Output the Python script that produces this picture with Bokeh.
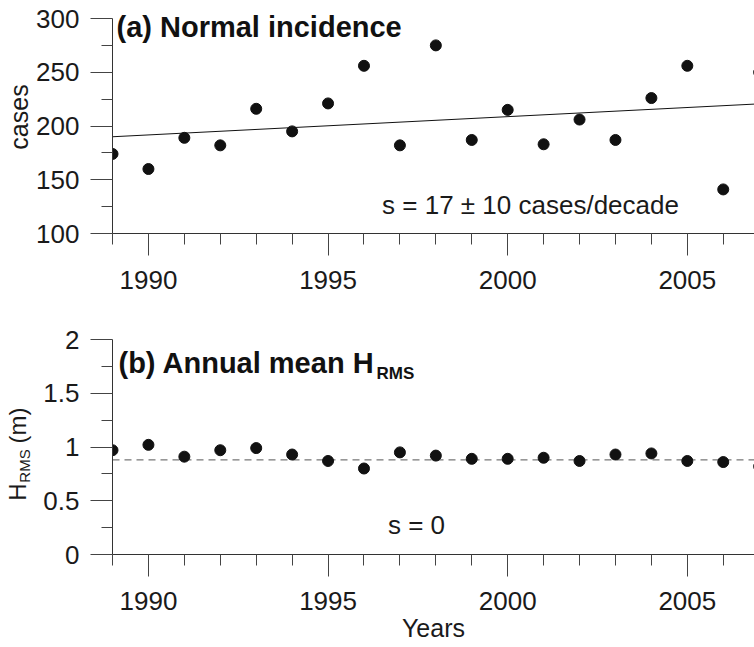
import math
from bokeh.plotting import figure
from bokeh.models import Range1d, FixedTicker, Label, NumeralTickFormatter
from bokeh.core.properties import value
from bokeh.layouts import column, row
from bokeh.embed import file_html
from bokeh.resources import INLINE

# ---------------- data ----------------
years = list(range(1989, 2008))
cases = [174, 160, 189, 182, 216, 195, 221, 256, 182, 275, 187, 215, 183, 206, 187, 226, 256, 141, 250]
hrms = [0.97, 1.02, 0.91, 0.97, 0.99, 0.93, 0.87, 0.80, 0.95, 0.92, 0.89, 0.89, 0.90, 0.87, 0.93, 0.94, 0.87, 0.86, 0.82]
trend_years = [1989, 2007]
trend_cases = [190.0, 220.6]
mean_years = [1989, 2007]
mean_hrms = [0.88, 0.88]
year_major = [1990, 1995, 2000, 2005]
year_minor = list(range(1989, 2008))
cases_major = [100, 150, 200, 250, 300]
cases_minor = [125, 175, 225, 275]
hrms_major = [0, 0.5, 1, 1.5, 2]
hrms_minor = [0.25, 0.75, 1.25, 1.75]
hrms_title_parts = ["H", "RMS", "(m)"]

FONT = "Liberation Sans"
X0, X1 = 1989, 2006.87
FRAME_W, PANEL_H = 642, 215
LEFT = 112
xr = Range1d(X0, X1)

def xd(px):
    return X0 + (px - LEFT) * (X1 - X0) / FRAME_W

def style_axes(p, y_major, y_minor, y_bounds):
    for ax in (p.xaxis[0], p.yaxis[0]):
        ax.axis_line_color = "#333333"
        ax.major_tick_line_color = "#444444"
        ax.minor_tick_line_color = "#444444"
        ax.major_tick_in = 0
        ax.major_tick_out = 22
        ax.minor_tick_in = 0
        ax.minor_tick_out = 11
        ax.major_label_text_font = FONT
        ax.major_label_text_font_size = "26px"
        ax.major_label_text_color = "#1a1a1a"
        ax.axis_label_text_font = FONT
        ax.axis_label_text_font_size = "25px"
        ax.axis_label_text_font_style = "normal"
        ax.axis_label_text_color = "#1a1a1a"
    p.xaxis[0].major_label_standoff = 15
    p.xaxis[0].axis_label_standoff = 1
    p.yaxis[0].major_label_standoff = 11
    p.yaxis[0].axis_label_standoff = 0
    p.yaxis[0].bounds = y_bounds
    p.xaxis[0].ticker = FixedTicker(ticks=year_major, minor_ticks=year_minor)
    p.yaxis[0].ticker = FixedTicker(ticks=y_major, minor_ticks=y_minor)
    p.xgrid.visible = False
    p.ygrid.visible = False
    p.outline_line_color = None

# ---------------- panel (a) ----------------
A_TOP_PX = 18
a_top = 300 + A_TOP_PX * 200 / PANEL_H
pa = figure(frame_width=FRAME_W, frame_height=PANEL_H + A_TOP_PX, x_range=xr,
            y_range=Range1d(100, a_top),
            output_backend="svg", toolbar_location=None,
            min_border_left=LEFT, min_border_right=0, min_border_top=0, min_border_bottom=67)
style_axes(pa, cases_major, cases_minor, (100, 300))
pa.yaxis[0].axis_label = "cases"
pa.line(trend_years, trend_cases, line_color="#111111", line_width=1)
pa.scatter(years, cases, size=11, color="#111111")

def ya(py):
    return a_top - py * 200 / PANEL_H

pa.add_layout(Label(x=xd(116), y=ya(26), text="(a) Normal incidence", text_font=FONT,
                    text_font_size="29px", text_font_style="bold", text_color="#111111",
                    text_baseline="middle", text_align="left"))
pa.add_layout(Label(x=xd(530), y=ya(204), text="s = 17 \u00b1 10 cases/decade", text_font=FONT,
                    text_font_size="26px", text_color="#1a1a1a",
                    text_baseline="middle", text_align="center"))

# ---------------- panel (b) ----------------
LAB_W = 40
pb = figure(frame_width=FRAME_W, frame_height=PANEL_H, x_range=xr, y_range=Range1d(0, 2),
            output_backend="svg", toolbar_location=None,
            min_border_left=LEFT - LAB_W, min_border_right=0, min_border_top=39, min_border_bottom=93)
style_axes(pb, hrms_major, hrms_minor, (0, 2))
pb.yaxis[0].formatter = NumeralTickFormatter(format="0.[0]")
pb.xaxis[0].axis_label = "Years"
pb.line(mean_years, mean_hrms, line_color="#555555", line_width=1, line_dash="7 5")
pb.scatter(years, hrms, size=11, color="#111111")

def yb(py):
    return 2 - (py - 339) * 2 / PANEL_H

pb.add_layout(Label(x=xd(118), y=yb(362), text="(b) Annual mean H", text_font=FONT,
                    text_font_size="29px", text_font_style="bold", text_color="#111111",
                    text_baseline="middle", text_align="left"))
pb.add_layout(Label(x=xd(376), y=yb(373), text="RMS", text_font=FONT,
                    text_font_size="17px", text_font_style="bold", text_color="#111111",
                    text_baseline="middle", text_align="left"))
pb.add_layout(Label(x=xd(416), y=yb(524), text="s = 0", text_font=FONT,
                    text_font_size="26px", text_color="#1a1a1a",
                    text_baseline="middle", text_align="center"))

# ---------------- rotated y-axis title H_RMS (m) for panel (b) ----------------
# the row aligns this strip's frame with panel (b)'s frame (page y 339..554)
B_FRAME_BOTTOM = 339 + PANEL_H
lab = figure(width=LAB_W, height=347, x_range=Range1d(0, LAB_W), y_range=Range1d(0, PANEL_H),
             x_axis_type=None, y_axis_type=None, output_backend="svg", toolbar_location=None,
             min_border=0, title=None)
lab.outline_line_color = None

def yl(py):
    return B_FRAME_BOTTOM - py

rot = math.pi / 2
lab.text(x=[16.7], y=[yl(491.5)], text=[hrms_title_parts[0]], angle=rot, text_font=value(FONT),
         text_font_size="24px", text_color="#1a1a1a", text_align="center", text_baseline="middle")
lab.text(x=[23.8], y=[yl(465.5)], text=[hrms_title_parts[1]], angle=rot, text_font=value(FONT),
         text_font_size="15px", text_color="#1a1a1a", text_align="center", text_baseline="middle")
lab.text(x=[16.7], y=[yl(425)], text=[hrms_title_parts[2]], angle=rot, text_font=value(FONT),
         text_font_size="24px", text_color="#1a1a1a", text_align="center", text_baseline="middle")

layout = column(pa, row(lab, pb, spacing=0), spacing=0)
open("out.html", "w").write(file_html(layout, INLINE))
